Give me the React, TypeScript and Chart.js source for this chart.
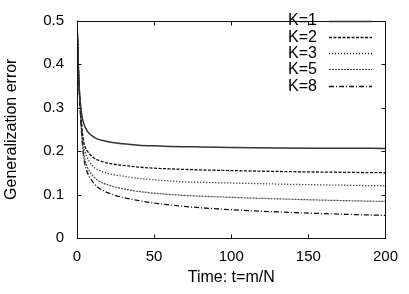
import React, { useEffect, useRef } from 'react';
import { Chart, registerables } from 'chart.js';

Chart.register(...registerables);

const times = [0, 0.5, 1, 1.5, 2, 3, 4, 5, 6.5, 8, 10, 13, 17, 23, 30, 40, 50, 60, 75, 100, 130, 160, 200];
const errK1 = [0.5, 0.445, 0.385, 0.345, 0.318, 0.285, 0.268, 0.257, 0.247, 0.24, 0.234, 0.228, 0.224, 0.2195, 0.2165, 0.2135, 0.2118, 0.2105, 0.2095, 0.208, 0.207, 0.2065, 0.206];
const errK2 = [0.5, 0.445, 0.383, 0.34, 0.31, 0.262, 0.228, 0.212, 0.201, 0.194, 0.187, 0.18, 0.175, 0.17, 0.167, 0.163, 0.1605, 0.159, 0.157, 0.155, 0.153, 0.1515, 0.15];
const errK3 = [0.5, 0.445, 0.382, 0.338, 0.306, 0.255, 0.218, 0.2, 0.186, 0.176, 0.166, 0.158, 0.152, 0.146, 0.142, 0.137, 0.134, 0.131, 0.1285, 0.1265, 0.124, 0.122, 0.12];
const errK5 = [0.5, 0.444, 0.38, 0.335, 0.302, 0.245, 0.205, 0.182, 0.165, 0.154, 0.144, 0.134, 0.126, 0.119, 0.113, 0.107, 0.103, 0.1, 0.097, 0.0935, 0.09, 0.087, 0.084];
const errK8 = [0.5, 0.444, 0.378, 0.333, 0.298, 0.238, 0.196, 0.172, 0.153, 0.141, 0.13, 0.118, 0.109, 0.1, 0.093, 0.086, 0.08, 0.076, 0.071, 0.065, 0.06, 0.056, 0.052];
const seriesLabels = ['K=1', 'K=2', 'K=3', 'K=5', 'K=8'];
const xTitle = 'Time: t=m/N';
const yTitle = 'Generalization error';

const FONT = '"Liberation Sans", Arial, Helvetica, sans-serif';

const frameTicks = {
  id: 'frameTicks',
  afterDatasetsDraw(chart: any) {
    const { ctx, chartArea: a, scales } = chart;
    ctx.save();
    ctx.strokeStyle = '#111';
    ctx.lineWidth = 1;
    ctx.setLineDash([]);
    const L = Math.round(a.left) + 0.5;
    const R = Math.round(a.right) + 0.5;
    const T = Math.round(a.top) + 0.5;
    const B = Math.round(a.bottom) + 0.5;
    ctx.strokeRect(L, T, R - L, B - T);
    const len = 4;
    ctx.beginPath();
    scales.x.ticks.forEach((t: any) => {
      const px = Math.round(scales.x.getPixelForValue(t.value)) + 0.5;
      ctx.moveTo(px, B); ctx.lineTo(px, B - len);
      ctx.moveTo(px, T); ctx.lineTo(px, T + len);
    });
    scales.y.ticks.forEach((t: any) => {
      const py = Math.round(scales.y.getPixelForValue(t.value)) + 0.5;
      ctx.moveTo(L, py); ctx.lineTo(L + len, py);
      ctx.moveTo(R, py); ctx.lineTo(R - len, py);
    });
    ctx.stroke();
    ctx.restore();
  },
};

const sideLegend = {
  id: 'sideLegend',
  afterDraw(chart: any) {
    const { ctx } = chart;
    ctx.save();
    ctx.font = `16px ${FONT}`;
    ctx.textAlign = 'right';
    ctx.textBaseline = 'middle';
    chart.data.datasets.forEach((ds: any, i: number) => {
      const y = 20.5 + i * 16.3;
      ctx.fillStyle = '#000';
      ctx.fillText(ds.label, 317, y + 0.5);
      ctx.strokeStyle = ds.borderColor;
      ctx.lineWidth = ds.borderWidth;
      ctx.setLineDash(ds.borderDash || []);
      ctx.beginPath();
      const ly = Math.round(y) + 0.5;
      ctx.moveTo(329, ly);
      ctx.lineTo(372, ly);
      ctx.stroke();
    });
    ctx.restore();
  },
};

export default function App() {
  const ref = useRef<HTMLCanvasElement | null>(null);
  useEffect(() => {
    if (!ref.current) return;
    const mk = (vals: number[]) => times.map((t, i) => ({ x: t, y: vals[i] }));
    const styles = [
      { c: '#333333', w: 1.5, d: [] as number[] },
      { c: '#111111', w: 1.3, d: [3, 1.5] },
      { c: '#111111', w: 1.3, d: [1, 2] },
      { c: '#4a4a4a', w: 1.2, d: [2, 1] },
      { c: '#111111', w: 1.3, d: [5, 2, 1, 2] },
    ];
    const all = [errK1, errK2, errK3, errK5, errK8];
    const chart = new Chart(ref.current, {
      type: 'line',
      data: {
        datasets: all.map((vals, i) => ({
          label: seriesLabels[i],
          data: mk(vals),
          borderColor: styles[i].c,
          borderWidth: styles[i].w,
          borderDash: styles[i].d,
          pointRadius: 0,
          fill: false,
          cubicInterpolationMode: 'monotone' as const,
        })),
      },
      options: {
        animation: false,
        responsive: false,
        maintainAspectRatio: false,
        devicePixelRatio: 1,
        layout: { padding: { top: 8, right: 17, left: 0, bottom: 0 } },
        plugins: { legend: { display: false }, tooltip: { enabled: false } },
        scales: {
          x: {
            type: 'linear',
            min: 0,
            max: 200,
            grid: { display: false, drawTicks: false },
            border: { display: false },
            ticks: {
              stepSize: 50,
              color: '#000',
              padding: 11,
              maxRotation: 0,
              font: { family: FONT, size: 15, lineHeight: 1 },
            },
            title: {
              display: true,
              text: xTitle,
              color: '#000',
              font: { family: FONT, size: 16, lineHeight: 1 },
              padding: { top: 0, bottom: 8.5 },
            },
            afterFit: (s: any) => { s.height = 56; },
          },
          y: {
            type: 'linear',
            min: 0,
            max: 0.5,
            grid: { display: false, drawTicks: false },
            border: { display: false },
            ticks: {
              stepSize: 0.1,
              color: '#000',
              padding: 13,
              font: { family: FONT, size: 15, lineHeight: 1 },
              callback: (v: any) => String(Number(Number(v).toFixed(1))),
            },
            title: {
              display: true,
              text: yTitle,
              color: '#000',
              font: { family: FONT, size: 16, lineHeight: 1 },
              padding: { top: 4, bottom: 0 },
            },
            afterFit: (s: any) => { s.width = 77; },
          },
        },
      },
      plugins: [frameTicks, sideLegend],
    });
    return () => chart.destroy();
  }, []);
  return (
    <div style={{ position: 'absolute', left: 0, top: 0, width: 409, height: 294, background: '#fff' }}>
      <canvas ref={ref} width={409} height={294} style={{ width: 409, height: 294 }} />
    </div>
  );
}
